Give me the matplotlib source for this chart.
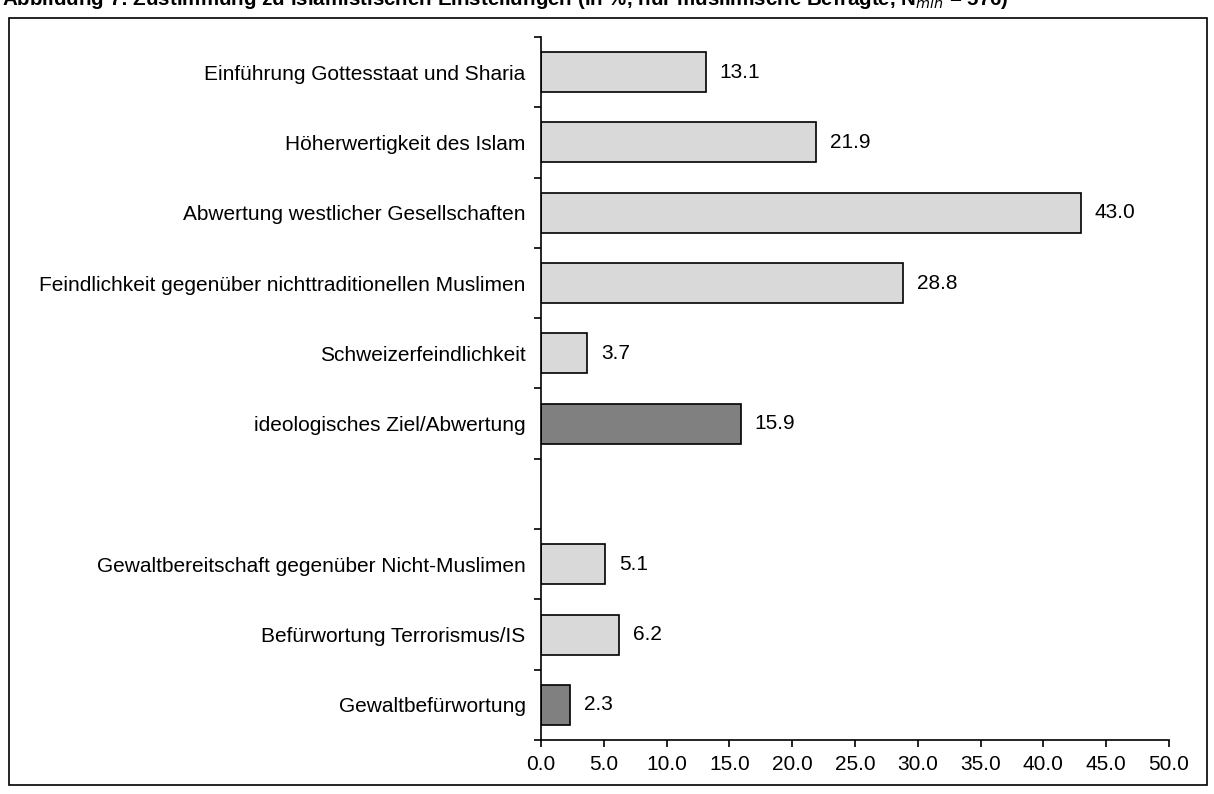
import numpy as np
import matplotlib
matplotlib.use("Agg")
import matplotlib.pyplot as plt
from matplotlib.patches import Rectangle

plt.rcParams['font.family'] = ['Liberation Sans', 'DejaVu Sans']

categories = ["Einführung Gottesstaat und Sharia",
              "Höherwertigkeit des Islam",
              "Abwertung westlicher Gesellschaften",
              "Feindlichkeit gegenüber nichttraditionellen Muslimen",
              "Schweizerfeindlichkeit",
              "ideologisches Ziel/Abwertung",
              "",
              "Gewaltbereitschaft gegenüber Nicht-Muslimen",
              "Befürwortung Terrorismus/IS",
              "Gewaltbefürwortung"]
values = [13.1, 21.9, 43.0, 28.8, 3.7, 15.9, np.nan, 5.1, 6.2, 2.3]
is_index = [False, False, False, False, False, True, False, False, False, True]
xticks = [0, 5, 10, 15, 20, 25, 30, 35, 40, 45, 50]
title = "Abbildung 7: Zustimmung zu islamistischen Einstellungen (in %, nur muslimische Befragte, N$_{min}$ = 576)"

fs = 15
fig = plt.figure(figsize=(12.14, 7.94), dpi=100)
ax = fig.add_axes([541/1214, 1-740/794, (1169-541)/1214, (740-37)/794])

n = len(categories)
pos = np.arange(n)
cols = ["#808080" if f else "#d9d9d9" for f in is_index]
vals = [0 if np.isnan(v) else v for v in values]
bars = ax.barh(pos, vals, height=0.57, color=cols, edgecolor="black", linewidth=1.2)
for i, v in enumerate(values):
    if np.isnan(v):
        bars[i].set_visible(False)
        continue
    ax.text(v + 1.1, i, "%.1f" % v, va="center", ha="left", fontsize=fs)

ax.set_ylim(n - 0.5, -0.5)
ax.set_xlim(0, 50)
ax.set_yticks(pos)
ax.set_yticklabels(categories, fontsize=fs)
ax.set_yticks(np.arange(n + 1) - 0.5, minor=True)
ax.tick_params(axis="y", which="major", length=0, pad=11)
ax.tick_params(axis="y", which="minor", length=5, width=1.2, direction="out")
ax.set_xticks(xticks)
ax.set_xticklabels(["%.1f" % x for x in xticks], fontsize=fs)
ax.tick_params(axis="x", length=5, width=1.2, direction="out", pad=6)
for s in ["top", "right"]:
    ax.spines[s].set_visible(False)
for s in ["left", "bottom"]:
    ax.spines[s].set_linewidth(1.2)

# frame round the chart
fig.patches.append(Rectangle((9/1214, 1-785/794), (1207-9)/1214, (785-18)/794,
                             transform=fig.transFigure, fill=False,
                             edgecolor="black", linewidth=1.2))
fig.text(2/1214, 1-5/794, title, fontsize=14.8, fontweight="bold", ha="left", va="baseline")

fig.savefig("out.png", dpi=100)
